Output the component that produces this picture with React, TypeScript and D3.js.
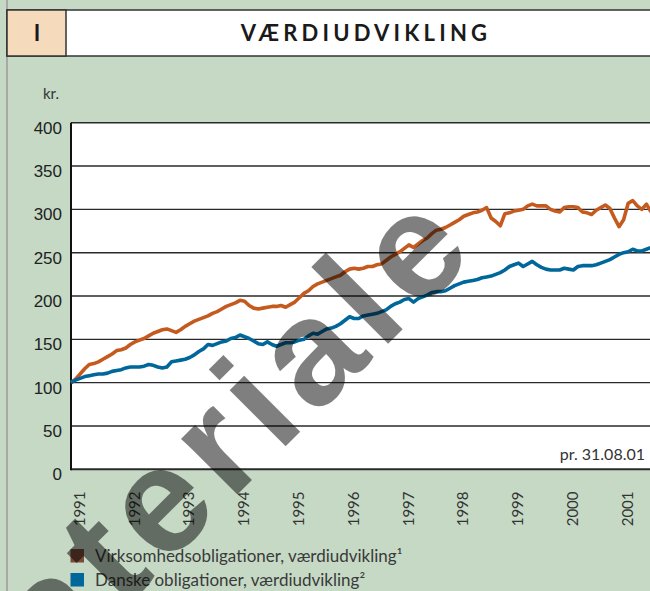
import React from 'react';
import * as d3 from 'd3';

// monthly index values, jan 1991 - aug 2001 (1991 = 100)
const virksomhed = [
  100, 104, 110, 116, 121, 122, 124, 127, 130, 133, 137, 138,
  140, 144, 147, 149, 151, 154, 157, 159, 161, 162, 160, 158,
  161, 165, 168, 171, 173, 175, 177, 180, 182, 185, 188, 190,
  192, 195, 194, 189, 186, 185, 186, 187, 188, 188, 189, 187,
  190, 193, 198, 203, 206, 211, 214, 216, 218, 220, 222, 224,
  228, 231, 232, 231, 232, 234, 234, 236, 237, 241, 245, 248,
  251, 255, 259, 256, 260, 264, 267, 272, 276, 277, 279, 282,
  285, 288, 292, 294, 296, 297, 299, 302, 290, 286, 281, 295,
  296, 298, 299, 300, 304, 306, 304, 304, 304, 300, 298, 297,
  302, 303, 303, 302, 297, 296, 294, 299, 302, 305, 301, 290,
  280, 288, 307, 310, 304, 300, 306, 297,
];
const danske = [
  100, 103, 105, 107, 108, 109, 110, 110, 111, 113, 114, 115,
  117, 118, 118, 118, 119, 121, 120, 118, 117, 118, 124, 125,
  126, 127, 129, 132, 136, 139, 144, 143, 145, 147, 148, 151,
  152, 155, 153, 151, 148, 145, 144, 147, 144, 142, 144, 146,
  146, 147, 149, 150, 154, 157, 156, 159, 162, 163, 165, 168,
  172, 176, 174, 174, 177, 178, 179, 180, 182, 184, 188, 191,
  193, 196, 197, 193, 197, 199, 201, 204, 205, 205, 206, 209,
  212, 214, 216, 217, 218, 219, 221, 222, 223, 225, 227, 230,
  234, 236, 238, 234, 237, 240, 236, 233, 231, 230, 230, 230,
  232, 231, 230, 234, 235, 235, 235, 236, 238, 240, 242, 245,
  248, 250, 251, 254, 252, 252, 254, 256,
];
const years = ['1991', '1992', '1993', '1994', '1995', '1996', '1997', '1998', '1999', '2000', '2001'];
const yTicks = [0, 50, 100, 150, 200, 250, 300, 350, 400];
const seriesNames = ['Virksomhedsobligationer, værdiudvikling¹', 'Danske obligationer, værdiudvikling²'];
const seriesColors = ['#c55a1f', '#00679a'];
const legendColors = ['#7a4a38', '#00679a'];

const W = 650;
const H = 591;
const sans = 'Lato, "Open Sans", sans-serif';

export default function App() {
  const x = d3.scaleLinear().domain([0, virksomhed.length - 1]).range([71, 651]);
  const y = d3.scaleLinear().domain([0, 400]).range([469.3, 122.7]);
  const line = d3.line<number>().x((d, i) => x(i)).y(d => y(d));
  const series = [virksomhed, danske];

  return (
    <svg width={W} height={H} style={{ position: 'absolute', left: 0, top: 0 }}>
      <rect width={W} height={H} fill="#c5d9c5" />
      <line x1={7} x2={7} y1={0} y2={H} stroke="#a8a8a8" strokeWidth={2} />

      {/* header */}
      <rect x={7} y={10} width={W} height={46} fill="#fff" stroke="#333" strokeWidth={1.5} />
      <rect x={7} y={10} width={59} height={46} fill="#f5dabc" stroke="#333" strokeWidth={1.5} />
      <text x={37} y={41} textAnchor="middle" fontFamily={sans} fontWeight={700} fontSize={22} fill="#1a1a1a">I</text>
      <text x={366} y={41} textAnchor="middle" fontFamily={sans} fontWeight={700} fontSize={22}
        letterSpacing={4.2} fill="#1a1a1a">VÆRDIUDVIKLING</text>

      <text x={43} y={99} fontFamily={sans} fontSize={15} fill="#333">kr.</text>

      {/* plot */}
      <rect x={71} y={y(400)} width={W - 71} height={y(0) - y(400)} fill="#fff" />
      {yTicks.map(t => (
        <g key={t}>
          <line x1={71} x2={W} y1={y(t)} y2={y(t)} stroke="#2a2a2a" strokeWidth={t === 0 ? 2 : 1.4} />
          <text x={62} y={y(t) + 11} textAnchor="end" fontFamily='"Liberation Sans", Arial, sans-serif'
            fontSize={17} fill="#222">{t}</text>
        </g>
      ))}
      <line x1={71} x2={71} y1={y(400)} y2={y(0) + 1} stroke="#111" strokeWidth={2} />

      {series.map((s, i) => (
        <path key={i} d={line(s) || ''} fill="none" stroke={seriesColors[i]} strokeWidth={3.6}
          strokeLinejoin="round" />
      ))}

      <text x={645} y={460} textAnchor="end" fontFamily={sans} fontSize={16} fill="#333">pr. 31.08.01</text>

      {years.map((yr, i) => (
        <text key={yr} transform={`translate(${x(i * 12) + 7.7},491.5) rotate(-90)`} textAnchor="end"
          dominantBaseline="central" fontFamily={sans} fontSize={15} fill="#333">{yr}</text>
      ))}

      {/* legend */}
      {seriesNames.map((n, i) => (
        <g key={n} transform={`translate(0,${549 + i * 24})`}>
          <rect x={70.5} y={0} width={13.5} height={13.5} fill={legendColors[i]} />
          <text x={95} y={12.5} fontFamily={sans} fontSize={17} fill="#3a3a3a">{n}</text>
        </g>
      ))}

      {/* watermark */}
      <text transform="translate(-46,778) rotate(-45)" fontFamily='"Liberation Sans", Arial, sans-serif'
        fontWeight={700} fontSize={150} letterSpacing={10} fill="#000" fillOpacity={0.5}>materiale</text>
    </svg>
  );
}
